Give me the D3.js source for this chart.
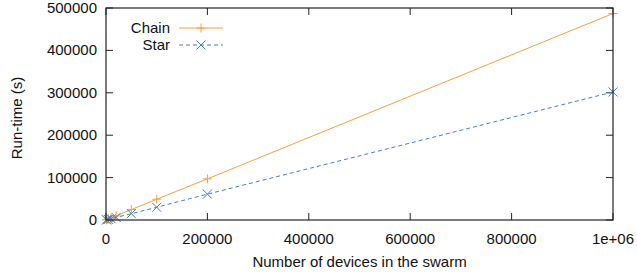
<!DOCTYPE html>
<html>
<head>
<meta charset="utf-8">
<script src="https://cdn.jsdelivr.net/npm/d3@7"></script>
<style>
  body { margin: 0; background: #fff; }
  text { font-family: "Liberation Sans", Arial, sans-serif; font-size: 15px; fill: #111; }
</style>
</head>
<body>
<div id="chart"></div>
<script>
// devices in the swarm
const devices = [1000, 2000, 5000, 10000, 20000, 50000, 100000, 200000, 1000000];
// run-time (s)
const chainTimes = [490, 980, 2450, 4900, 9800, 24500, 49000, 97000, 487000];
const starTimes = [300, 600, 1500, 3000, 6000, 15000, 30000, 61000, 302000];
const xTicks = [0, 200000, 400000, 600000, 800000, 1000000];
const yTicks = [0, 100000, 200000, 300000, 400000, 500000];

const width = 637, height = 274;
const margin = { left: 106, right: 24, top: 8, bottom: 54 };

const svg = d3.select("#chart").append("svg")
  .attr("width", width).attr("height", height);

const x = d3.scaleLinear().domain([0, 1000000]).range([margin.left, width - margin.right]);
const y = d3.scaleLinear().domain([0, 500000]).range([height - margin.bottom, margin.top]);

const fmtX = (d) => d === 1000000 ? "1e+06" : String(d);
const tick = 7;

// ticks, gnuplot style (inward + mirrored)
const g = svg.append("g").attr("stroke", "#222").attr("stroke-width", 1);
xTicks.forEach((d) => {
  g.append("line").attr("x1", x(d)).attr("x2", x(d)).attr("y1", y(0)).attr("y2", y(0) - tick);
  g.append("line").attr("x1", x(d)).attr("x2", x(d)).attr("y1", y(500000)).attr("y2", y(500000) + tick);
});
yTicks.forEach((d) => {
  g.append("line").attr("x1", x(0)).attr("x2", x(0) + tick).attr("y1", y(d)).attr("y2", y(d));
  g.append("line").attr("x1", x(1000000)).attr("x2", x(1000000) - tick).attr("y1", y(d)).attr("y2", y(d));
});

svg.selectAll(".xl").data(xTicks).enter().append("text")
  .attr("x", (d) => x(d)).attr("y", y(0) + 24)
  .attr("text-anchor", "middle").text(fmtX);
svg.selectAll(".yl").data(yTicks).enter().append("text")
  .attr("x", x(0) - 9).attr("y", (d) => y(d) + 5)
  .attr("text-anchor", "end").text((d) => d);

svg.append("text").attr("x", (x(0) + x(1000000)) / 2).attr("y", 267)
  .attr("text-anchor", "middle").text("Number of devices in the swarm");
svg.append("text")
  .attr("transform", "translate(22,118) rotate(-90)")
  .attr("text-anchor", "middle").text("Run-time (s)");

const series = [
  { name: "Chain", vals: chainTimes, color: "#f8a040", dash: null, mark: "plus" },
  { name: "Star", vals: starTimes, color: "#3f7fd8", dash: "4,3", mark: "cross" }
];

const line = d3.line().x((d) => x(d[0])).y((d) => y(d[1]));
const s = 4.5;
function marker(sel, type, cx, cy, color) {
  const pts = type === "plus"
    ? [[cx - s, cy, cx + s, cy], [cx, cy - s, cx, cy + s]]
    : [[cx - s, cy - s, cx + s, cy + s], [cx - s, cy + s, cx + s, cy - s]];
  pts.forEach((p) => sel.append("line")
    .attr("x1", p[0]).attr("y1", p[1]).attr("x2", p[2]).attr("y2", p[3])
    .attr("stroke", color).attr("stroke-width", 1));
}

series.forEach((sr, i) => {
  const pts = devices.map((d, j) => [d, sr.vals[j]]);
  svg.append("path").datum(pts).attr("d", line)
    .attr("fill", "none").attr("stroke", sr.color).attr("stroke-width", 1)
    .attr("stroke-dasharray", sr.dash);
  const mg = svg.append("g");
  pts.forEach((p) => marker(mg, sr.mark, x(p[0]), y(p[1]), sr.color));

  // legend
  const ly = 28 + i * 17;
  svg.append("text").attr("x", 170).attr("y", ly + 5).attr("text-anchor", "end").text(sr.name);
  svg.append("line").attr("x1", 179).attr("x2", 223).attr("y1", ly).attr("y2", ly)
    .attr("stroke", sr.color).attr("stroke-width", 1).attr("stroke-dasharray", sr.dash);
  marker(svg, sr.mark, 201, ly, sr.color);
});

// frame
svg.append("rect")
  .attr("x", x(0)).attr("y", y(500000))
  .attr("width", x(1000000) - x(0)).attr("height", y(0) - y(500000))
  .attr("fill", "none").attr("stroke", "#222").attr("stroke-width", 1.2);
</script>
</body>
</html>
